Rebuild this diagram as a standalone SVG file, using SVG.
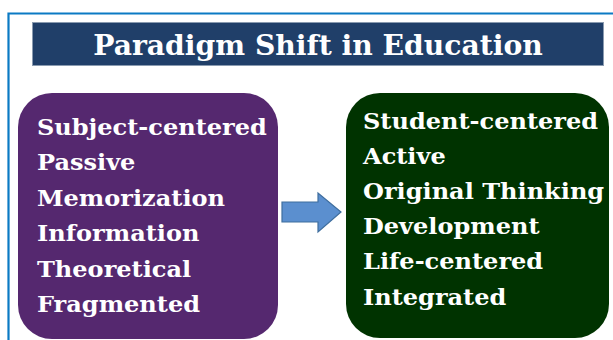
<svg xmlns="http://www.w3.org/2000/svg" width="613" height="340" viewBox="0 0 613 340">
<style>
.t{font-family:"DejaVu Serif","Liberation Serif",serif;font-weight:bold;fill:#ffffff}
.item{font-size:23px}
</style>
<rect width="613" height="340" fill="#ffffff"/>
<g id="frame">
<path d="M8.5 340 V13.5 H613" fill="none" stroke="#0B7AC4" stroke-width="2.2"/>
</g>
<g id="title">
<rect x="32.5" y="22.5" width="571" height="43" fill="#203F69" stroke="#8A9BB0" stroke-width="1"/>
<g transform="translate(318 0) scale(1.045 1) translate(-318 0)">
<text class="t" x="318" y="55.5" font-size="27" text-anchor="middle">Paradigm Shift in Education</text>
</g>
</g>
<g id="left">
<rect x="18" y="93" width="260" height="246" rx="34" fill="#55286F"/>
<g transform="translate(37 0) scale(1.045 1) translate(-37 0)">
<text class="t item" x="37" y="135">Subject-centered</text>
<text class="t item" x="37" y="170.5">Passive</text>
<text class="t item" x="37" y="206">Memorization</text>
<text class="t item" x="37" y="241.5">Information</text>
<text class="t item" x="37" y="277">Theoretical</text>
<text class="t item" x="37" y="312.5">Fragmented</text>
</g>
</g>
<g id="right">
<rect x="346" y="93" width="263" height="245" rx="34" fill="#003300"/>
<g transform="translate(363 0) scale(1.045 1) translate(-363 0)">
<text class="t item" x="363" y="129">Student-centered</text>
<text class="t item" x="363" y="164">Active</text>
<text class="t item" x="363" y="199.5">Original Thinking</text>
<text class="t item" x="363" y="234.5">Development</text>
<text class="t item" x="363" y="269.5">Life-centered</text>
<text class="t item" x="363" y="305">Integrated</text>
</g>
</g>
<g id="connectors">
<path d="M282 202 H318 V193 L341 212 L318 232 V222 H282 Z" fill="#5B8FCF" stroke="#3F6E9E" stroke-width="1.2" stroke-linejoin="miter"/>
</g>
</svg>
